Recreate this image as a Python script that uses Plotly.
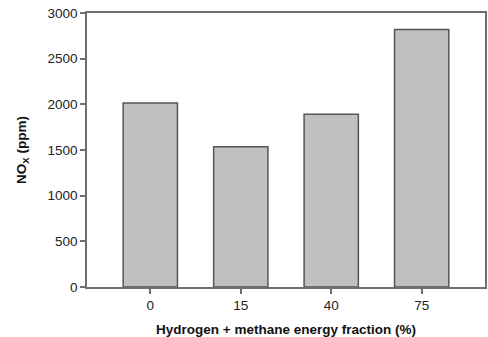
import plotly.graph_objects as go

categories = ["0", "15", "40", "75"]
nox_ppm = [2014, 1536, 1891, 2818]

fig = go.Figure()
fig.add_trace(go.Bar(
    x=categories, y=nox_ppm, width=0.6,
    marker=dict(color="#c0c0c0", line=dict(color="#555555", width=1.5)),
))

axis_common = dict(
    showline=True, linecolor="#6e6e6e", linewidth=1.5, mirror=True,
    ticks="outside", ticklen=5, tickcolor="#6e6e6e", tickwidth=1.5,
    showgrid=False, zeroline=False,
    tickfont=dict(family="Liberation Sans, Arial", size=13.5, color="#222222"),
)
title_font = dict(family="Liberation Sans, Arial", size=13.5, color="#111111")

fig.update_layout(
    width=488, height=337,
    margin=dict(l=87, r=1, t=13, b=48),
    plot_bgcolor="white", paper_bgcolor="white",
    showlegend=False,
    xaxis=dict(**axis_common, type="category", range=[-0.7, 3.7],
               title=dict(text="<b>Hydrogen + methane energy fraction (%)</b>",
                          font=title_font, standoff=14)),
    yaxis=dict(**axis_common, range=[0, 3000], tickvals=[0, 500, 1000, 1500, 2000, 2500, 3000],
               title=dict(text="<b>NO<sub>X</sub> (ppm)</b>",
                          font=title_font, standoff=18)),
)

fig.write_html("out.html")
